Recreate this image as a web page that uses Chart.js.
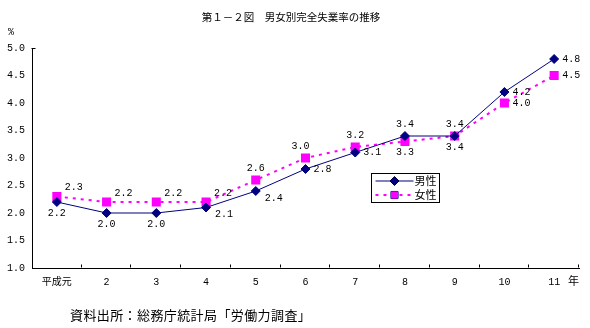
<!DOCTYPE html>
<html>
<head>
<meta charset="utf-8">
<script src="https://cdn.jsdelivr.net/npm/chart.js@4/dist/chart.umd.min.js"></script>
<style>
html, body { margin: 0; padding: 0; background: #fff; }
#wrap { width: 590px; height: 328px; position: relative; }
</style>
</head>
<body>
<div id="wrap"><canvas id="chart"></canvas></div>
<script>
const YEARS = ["平成元", "2", "3", "4", "5", "6", "7", "8", "9", "10", "11"];
const MALE = [2.2, 2.0, 2.0, 2.1, 2.4, 2.8, 3.1, 3.4, 3.4, 4.2, 4.8];
const FEMALE = [2.3, 2.2, 2.2, 2.2, 2.6, 3.0, 3.2, 3.3, 3.4, 4.0, 4.5];
const Y_MIN = 1.0;
const Y_MAX = 5.0;
const Y_STEP = 0.5;

// where each value label sits relative to its point
const MALE_LABEL_POS = ["below", "below", "below", "belowRight", "belowRight", "right", "right", "above", "above", "right", "right"];
const FEMALE_LABEL_POS = ["aboveRight", "aboveRight", "aboveRight", "aboveRight", "above", "aboveLeft", "above", "below", "below", "right", "right"];

const OFFSETS = {
    below: [0, 11],
    belowRight: [18, 7],
    right: [17, 0],
    above: [0, -12],
    aboveLeft: [-5, -12],
    aboveRight: [17, -9],
};

const NUM_FONT = "10px 'Liberation Mono', 'DejaVu Sans Mono', monospace";
const JP = "'Noto Sans CJK JP', sans-serif";

const labelsPlugin = {
    id: "valueLabels",
    afterDatasetsDraw(chart) {
        const {ctx} = chart;
        ctx.save();
        ctx.font = NUM_FONT;
        ctx.fillStyle = "#000";
        ctx.textAlign = "center";
        ctx.textBaseline = "middle";
        chart.data.datasets.forEach((ds, di) => {
            const meta = chart.getDatasetMeta(di);
            meta.data.forEach((pt, i) => {
                const [dx, dy] = OFFSETS[ds.labelPos[i]];
                ctx.fillText(ds.data[i].toFixed(1), pt.x + dx, pt.y + dy);
            });
        });
        ctx.restore();
    },
};

const decorPlugin = {
    id: "decor",
    afterDraw(chart) {
        const {ctx, chartArea: ca} = chart;
        const xs = chart.scales.x;
        ctx.save();
        // category boundary ticks on the x axis, pointing up
        ctx.strokeStyle = "#000";
        ctx.lineWidth = 1;
        const n = chart.data.labels.length;
        const w = (xs.right - xs.left) / n;
        ctx.beginPath();
        for (let i = 1; i <= n; i++) {
            const x = Math.round(xs.left + i * w) - 0.5;
            ctx.moveTo(x, Math.round(ca.bottom) - 0.5);
            ctx.lineTo(x, Math.round(ca.bottom) - 3.5);
        }
        // short tick at the top of the y axis
        ctx.moveTo(Math.round(ca.left) - 0.5, Math.round(ca.top) + 0.5);
        ctx.lineTo(Math.round(ca.left) + 3.5, Math.round(ca.top) + 0.5);
        ctx.stroke();

        ctx.fillStyle = "#000";
        ctx.textBaseline = "middle";
        // title
        ctx.textAlign = "center";
        ctx.font = "10.5px " + JP;
        ctx.fillText("第１－２図　男女別完全失業率の推移", 291, 17);
        // unit and year marker
        ctx.textAlign = "left";
        ctx.font = NUM_FONT;
        ctx.fillText("%", 8, 32);
        ctx.font = "11px " + JP;
        ctx.fillText("年", 568, 281);
        // source
        ctx.font = "13px " + JP;
        ctx.letterSpacing = "0.4px";
        ctx.fillText("資料出所：総務庁統計局「労働力調査」", 70, 315);
        ctx.letterSpacing = "0px";

        // legend
        const bx = 371.5, by = 173.5, bw = 68, bh = 29;
        ctx.fillStyle = "#fff";
        ctx.fillRect(bx, by, bw, bh);
        ctx.strokeStyle = "#000";
        ctx.strokeRect(bx, by, bw, bh);
        chart.data.datasets.forEach((ds, di) => {
            const y = by + 7.5 + di * 14;
            ctx.save();
            ctx.strokeStyle = ds.borderColor;
            ctx.lineWidth = ds.borderWidth;
            ctx.setLineDash(ds.borderDash || []);
            ctx.beginPath();
            ctx.moveTo(bx + 4, y);
            ctx.lineTo(bx + 42, y);
            ctx.stroke();
            ctx.restore();
            Chart.helpers.drawPoint(ctx, {
                pointStyle: ds.pointStyle,
                radius: ds.pointRadius,
                borderWidth: 1,
                rotation: 0,
            }, bx + 23, y);
            ctx.fillStyle = ds.pointBackgroundColor;
            ctx.strokeStyle = ds.pointBorderColor;
            ctx.fill();
            ctx.fillStyle = "#000";
            ctx.font = "11px " + JP;
            ctx.textAlign = "left";
            ctx.fillText(ds.label, bx + 43, y);
        });
        ctx.restore();
    },
};

const config = {
    type: "line",
    data: {
        labels: YEARS,
        datasets: [
            {
                label: "男性",
                data: MALE,
                labelPos: MALE_LABEL_POS,
                borderColor: "#000080",
                backgroundColor: "#000080",
                borderWidth: 1,
                pointStyle: "rectRot",
                pointRadius: 4.5,
                pointBackgroundColor: "#000080",
                pointBorderColor: "#000080",
                tension: 0,
            },
            {
                label: "女性",
                data: FEMALE,
                labelPos: FEMALE_LABEL_POS,
                borderColor: "#ff00ff",
                backgroundColor: "#ff00ff",
                borderWidth: 2,
                borderDash: [3, 5],
                pointStyle: "rect",
                pointRadius: 5,
                pointBackgroundColor: "#ff00ff",
                pointBorderColor: "#ff00ff",
                tension: 0,
            },
        ],
    },
    options: {
        responsive: false,
        animation: false,
        devicePixelRatio: 1,
        layout: {
            padding: {left: 0, right: 11, top: 48, bottom: 0},
        },
        plugins: {
            legend: {display: false},
            title: {display: false},
            tooltip: {enabled: false},
        },
        scales: {
            x: {
                offset: true,
                grid: {display: false, drawTicks: false},
                border: {display: true, color: "#000", width: 1},
                ticks: {
                    color: "#000",
                    padding: 8,
                    maxRotation: 0,
                    font: {family: "'Liberation Mono', 'Noto Sans CJK JP', monospace", size: 10},
                },
                afterFit: (scale) => { scale.height = 60; },
            },
            y: {
                min: Y_MIN,
                max: Y_MAX,
                grid: {display: false, drawTicks: false},
                border: {display: true, color: "#000", width: 1},
                ticks: {
                    stepSize: Y_STEP,
                    color: "#000",
                    padding: 7,
                    font: {family: "'Liberation Mono', 'DejaVu Sans Mono', monospace", size: 10},
                    callback: (v) => Number(v).toFixed(1),
                },
                afterFit: (scale) => { scale.width = 32; },
            },
        },
    },
    plugins: [labelsPlugin, decorPlugin],
};

const canvas = document.getElementById("chart");
canvas.width = 590;
canvas.height = 328;
new Chart(canvas, config);
</script>
</body>
</html>
